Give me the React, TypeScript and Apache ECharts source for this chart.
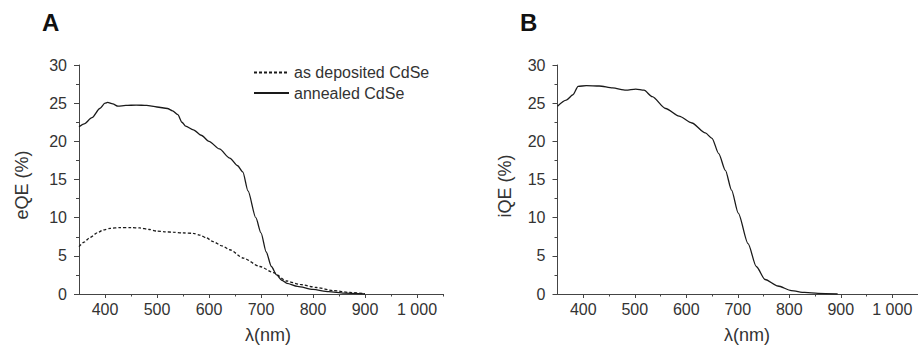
import React, { useEffect, useRef } from "react";
import * as echarts from "echarts";

// Panel A: external quantum efficiency
const annealedWl = [350, 360, 375, 390, 400, 405, 415, 425, 440, 460, 480, 500, 520, 530, 540, 548, 555, 570, 585, 600, 620, 640, 655, 665, 675, 690, 700, 710, 720, 730, 740, 750, 770, 800, 830, 860, 900];
const annealedEQE = [21.9, 22.3, 23.1, 24.3, 25.0, 25.1, 24.9, 24.6, 24.7, 24.75, 24.7, 24.5, 24.3, 24.0, 23.5, 22.5, 22.0, 21.5, 20.8, 20.0, 19.0, 17.8, 16.8, 16.0, 13.5, 10.0, 8.0, 5.5, 3.6, 2.5, 1.8, 1.4, 1.0, 0.6, 0.3, 0.12, 0.0];

const depositedWl = [350, 360, 371, 385, 397, 410, 429, 450, 467, 485, 499, 515, 531, 550, 570, 583, 595, 608, 625, 640, 666, 698, 724, 749, 775, 807, 839, 871, 900];
const depositedEQE = [6.2, 6.8, 7.4, 8.0, 8.4, 8.6, 8.7, 8.7, 8.65, 8.45, 8.25, 8.15, 8.1, 8.0, 7.95, 7.7, 7.35, 6.85, 6.3, 5.8, 4.7, 3.6, 2.8, 1.7, 1.25, 0.85, 0.45, 0.2, 0.05];

// Panel B: internal quantum efficiency
const iqeWl = [350, 367, 380, 390, 406, 431, 457, 483, 502, 518, 534, 560, 586, 611, 637, 650, 663, 676, 688, 701, 720, 736, 753, 778, 804, 830, 856, 894];
const iqeVal = [24.6, 25.4, 26.1, 27.2, 27.3, 27.25, 27.0, 26.7, 26.85, 26.7, 25.85, 24.3, 23.3, 22.4, 21.1, 20.4, 18.4, 16.2, 13.6, 10.6, 6.6, 3.6, 1.9, 1.05, 0.45, 0.2, 0.08, 0.0];

const majorTicks = [400, 500, 600, 700, 800, 900, 1000];
const minorTicksX = [450, 550, 650, 750, 850, 950, 1050];

const FONT = "Liberation Sans, Arial, sans-serif";
const TEXT = "#333";
const AXIS = "#444";
const LINE = "#1a1a1a";

const zip = (xs: number[], ys: number[]) => xs.map((x, i) => [x, ys[i]]);

export default function App() {
  const ref = useRef<HTMLDivElement>(null);
  useEffect(() => {
    if (!ref.current) return;
    const chart = echarts.init(ref.current, undefined, { renderer: "svg" });
    const gridTop = 65;
    const gridH = 229;
    const gridW = 364;
    const grids = [
      { left: 79, top: gridTop, width: gridW, height: gridH },
      { left: 557.5, top: gridTop, width: gridW, height: gridH },
    ];
    const mainX = (gi: number) => ({
      type: "value",
      gridIndex: gi,
      min: 350,
      max: 1050,
      axisLine: { show: true, lineStyle: { color: AXIS, width: 1 } },
      axisTick: { show: true, length: 4, lineStyle: { color: AXIS }, customValues: majorTicks },
      axisLabel: {
        show: true,
        customValues: majorTicks,
        margin: 7,
        color: TEXT,
        fontFamily: FONT,
        fontSize: 16,
        formatter: (v: number) => (v === 1000 ? "1 000" : String(v)),
      },
      splitLine: { show: false },
    });
    const minorX = (gi: number) => ({
      type: "value",
      gridIndex: gi,
      position: "bottom",
      min: 350,
      max: 1050,
      axisLine: { show: false },
      axisTick: { show: true, length: 2.5, lineStyle: { color: AXIS }, customValues: minorTicksX },
      axisLabel: { show: false },
      splitLine: { show: false },
    });
    const yAx = (gi: number) => ({
      type: "value",
      gridIndex: gi,
      min: 0,
      max: 30,
      interval: 5,
      axisLine: { show: true, lineStyle: { color: AXIS, width: 1 } },
      axisTick: { show: true, length: 5, lineStyle: { color: AXIS } },
      minorTick: { show: true, splitNumber: 2, length: 3, lineStyle: { color: AXIS } },
      axisLabel: { margin: 12, color: TEXT, fontFamily: FONT, fontSize: 16 },
      splitLine: { show: false },
      minorSplitLine: { show: false },
    });
    const lineSeries = (name: string, xi: number, yi: number, data: number[][], dashed: boolean) => ({
      name,
      type: "line",
      xAxisIndex: xi,
      yAxisIndex: yi,
      data,
      symbol: "none",
      smooth: 0.25,
      smoothMonotone: "x",
      lineStyle: { color: LINE, width: 1.3, type: dashed ? [3, 2] : "solid" },
      itemStyle: { color: LINE },
    });
    chart.setOption({
      animation: false,
      backgroundColor: "#fff",
      grid: grids,
      xAxis: [mainX(0), minorX(0), mainX(1), minorX(1)],
      yAxis: [yAx(0), yAx(1)],
      legend: {
        data: ["as deposited CdSe", "annealed CdSe"],
        orient: "vertical",
        left: 253,
        top: 64.5,
        padding: 0,
        itemWidth: 35,
        itemHeight: 14,
        itemGap: 4.5,
        itemStyle: { opacity: 0 },
        textStyle: { color: TEXT, fontFamily: FONT, fontSize: 16 },
        selectedMode: false,
      },
      series: [
        lineSeries("as deposited CdSe", 0, 0, zip(depositedWl, depositedEQE), true),
        lineSeries("annealed CdSe", 0, 0, zip(annealedWl, annealedEQE), false),
        lineSeries("iQE", 2, 1, zip(iqeWl, iqeVal), false),
      ],
      graphic: [
        { type: "text", left: 42, top: 10, style: { text: "A", fontFamily: FONT, fontSize: 24, fontWeight: "bold", fill: "#111" } },
        { type: "text", left: 520, top: 10, style: { text: "B", fontFamily: FONT, fontSize: 24, fontWeight: "bold", fill: "#111" } },
        { type: "text", x: 22, y: 185, rotation: Math.PI / 2, style: { text: "eQE (%)", fontFamily: FONT, fontSize: 18, fill: TEXT, align: "center", verticalAlign: "middle" } },
        { type: "text", x: 505, y: 186, rotation: Math.PI / 2, style: { text: "iQE (%)", fontFamily: FONT, fontSize: 18, fill: TEXT, align: "center", verticalAlign: "middle" } },
        { type: "text", x: 268, y: 335, style: { text: "λ(nm)", fontFamily: FONT, fontSize: 18, fill: TEXT, align: "center", verticalAlign: "middle" } },
        { type: "text", x: 747, y: 335, style: { text: "λ(nm)", fontFamily: FONT, fontSize: 18, fill: TEXT, align: "center", verticalAlign: "middle" } },
      ],
    });
    return () => chart.dispose();
  }, []);
  return (
    <div
      ref={ref}
      style={{ position: "fixed", left: 0, top: 0, width: 918, height: 348, background: "#fff" }}
    />
  );
}
